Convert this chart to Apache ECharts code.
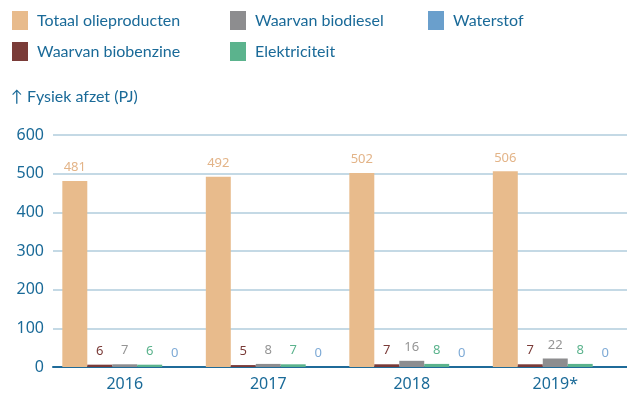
<!DOCTYPE html>
<html>
<head>
<meta charset="utf-8">
<script src="https://cdn.jsdelivr.net/npm/echarts@6/dist/echarts.min.js"></script>
<style>
  html, body { margin: 0; padding: 0; background: #fff; }
  #chart { width: 627px; height: 395px; }
</style>
</head>
<body>
<div id="chart"></div>
<script>
// Physical sales of transport fuels per year (PJ)
const years = ['2016', '2017', '2018', '2019*'];
const totaalOlieproducten = [481, 492, 502, 506];
const waarvanBiobenzine = [6, 5, 7, 7];
const waarvanBiodiesel = [7, 8, 16, 22];
const elektriciteit = [6, 7, 8, 8];
const waterstof = [0, 0, 0, 0];
const yTicks = [0, 100, 200, 300, 400, 500, 600];

const FONT = 'Noto Sans';
const LEGEND_FONT = 'Lato';
const TEXT = '#1a6a98';

const seriesDefs = [
  { name: 'Totaal olieproducten', data: totaalOlieproducten, color: '#e8bb8c', label: '#e3b488' },
  { name: 'Waarvan biobenzine', data: waarvanBiobenzine, color: '#7a3b38', label: '#7a3b38' },
  { name: 'Waarvan biodiesel', data: waarvanBiodiesel, color: '#8d8d8f', label: '#959595' },
  { name: 'Elektriciteit', data: elektriciteit, color: '#5bb38d', label: '#5bb38d' },
  { name: 'Waterstof', data: waterstof, color: '#6a9fcc', label: '#7eaad6' }
];

const legendBase = {
  orient: 'vertical',
  top: 11,
  padding: 0,
  itemWidth: 16,
  itemHeight: 19,
  itemGap: 12,
  icon: 'rect',
  textStyle: { fontFamily: LEGEND_FONT, fontSize: 16, color: TEXT, padding: [0, 0, 0, 4] },
  selectedMode: false
};

const chart = echarts.init(document.getElementById('chart'), null, { renderer: 'canvas' });
chart.setOption({
  animation: false,
  textStyle: { fontFamily: FONT },
  legend: [
    Object.assign({}, legendBase, { left: 12, data: ['Totaal olieproducten', 'Waarvan biobenzine'] }),
    Object.assign({}, legendBase, { left: 230, data: ['Waarvan biodiesel', 'Elektriciteit'] }),
    Object.assign({}, legendBase, { left: 428, data: ['Waterstof'] })
  ],
  title: {
    text: '↑ Fysiek afzet (PJ)',
    left: 11,
    top: 89,
    padding: 0,
    textStyle: { fontFamily: LEGEND_FONT, fontSize: 16, fontWeight: 'normal', color: TEXT }
  },
  grid: { left: 53, right: 0, top: 135, bottom: 28, containLabel: false },
  xAxis: {
    type: 'category',
    data: years,
    axisLine: { lineStyle: { color: '#1f6b99', width: 2 } },
    axisTick: { show: false },
    axisLabel: { fontFamily: FONT, fontSize: 16, color: TEXT, margin: 9 }
  },
  yAxis: {
    type: 'value',
    min: yTicks[0],
    max: yTicks[yTicks.length - 1],
    interval: 100,
    axisLine: { show: false },
    axisTick: { show: false },
    axisLabel: { fontFamily: FONT, fontSize: 16, color: TEXT, margin: 9 },
    splitLine: { lineStyle: { color: '#b0cddd', width: 1.5 } }
  },
  series: seriesDefs.map(s => ({
    name: s.name,
    type: 'bar',
    data: s.data,
    barGap: '0%',
    barCategoryGap: '13%',
    itemStyle: { color: s.color },
    label: {
      show: true,
      position: 'top',
      distance: 7,
      fontFamily: FONT,
      fontSize: 13,
      color: s.label
    }
  }))
});
</script>
</body>
</html>
